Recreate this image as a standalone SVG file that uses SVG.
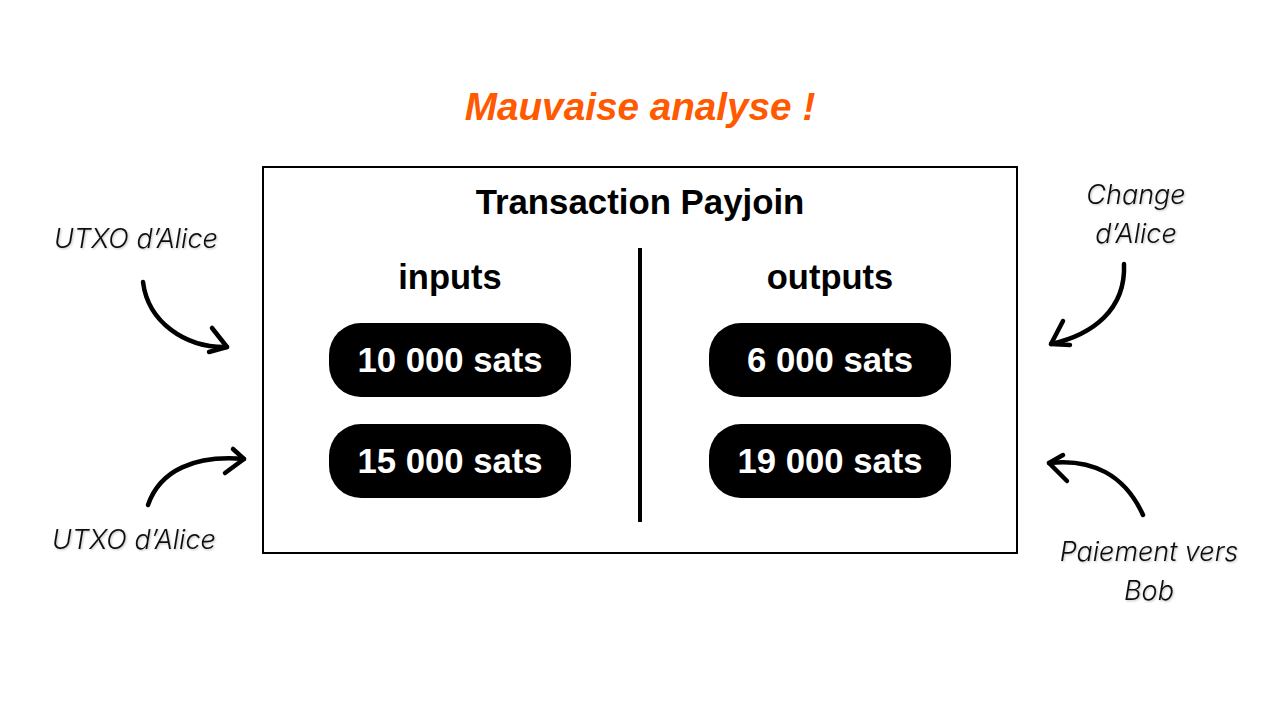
<svg xmlns="http://www.w3.org/2000/svg" width="1280" height="720" viewBox="0 0 1280 720">
<defs>
<filter id="sh" x="-10%" y="-20%" width="120%" height="140%"><feDropShadow dx="1" dy="1" stdDeviation="1" flood-color="#000" flood-opacity="0.25"/></filter>
</defs>
<style>
.b{font-family:"Liberation Sans",Arial,sans-serif;font-weight:bold;text-anchor:middle}
.lab{font-family:Inter,"Liberation Sans",sans-serif;font-style:italic;font-weight:300;font-size:27px;fill:#111;text-anchor:middle;filter:url(#sh)}
.pill{fill:#000}
.pt{fill:#fff;font-size:34.7px}
.arr{fill:none;stroke:#000;stroke-width:4.5;stroke-linecap:round;stroke-linejoin:round}
</style>
<rect width="1280" height="720" fill="#fff"/>
<text class="b" x="640" y="120" font-size="38.7" font-style="italic" fill="#FF5A00">Mauvaise analyse !</text>
<g id="tx">
<rect x="263" y="167" width="754" height="386" fill="#fff" stroke="#000" stroke-width="2"/>
<text class="b" x="640" y="214" font-size="34.8">Transaction Payjoin</text>
<line x1="640" y1="248" x2="640" y2="522" stroke="#000" stroke-width="4"/>
<text class="b" x="450" y="289" font-size="34.5">inputs</text>
<text class="b" x="830" y="289" font-size="34.5">outputs</text>
</g>
<g id="in1"><rect class="pill" x="329" y="323" width="242" height="74" rx="32"/><text class="b pt" x="450" y="372">10 000 sats</text></g>
<g id="in2"><rect class="pill" x="329" y="424" width="242" height="74" rx="32"/><text class="b pt" x="450" y="473">15 000 sats</text></g>
<g id="out1"><rect class="pill" x="709" y="323" width="242" height="74" rx="32"/><text class="b pt" x="830" y="372">6 000 sats</text></g>
<g id="out2"><rect class="pill" x="709" y="424" width="242" height="74" rx="32"/><text class="b pt" x="830" y="473">19 000 sats</text></g>
<g id="l1"><text class="lab" x="136" y="248">UTXO d’Alice</text></g>
<g id="l2"><text class="lab" x="134" y="549">UTXO d’Alice</text></g>
<g id="r1"><text class="lab" x="1136" y="204">Change</text><text class="lab" x="1136" y="243">d’Alice</text></g>
<g id="r2"><text class="lab" x="1149" y="561">Paiement vers</text><text class="lab" x="1149" y="600">Bob</text></g>
<g id="connectors">
<path class="arr" d="M143,282 C148,322 185,348 227,347"/>
<path class="arr" d="M212,328 L227,347 L209,352"/>
<path class="arr" d="M148,505 C160,470 195,455 244,459"/>
<path class="arr" d="M233,449 L244,459 L225,473"/>
<path class="arr" d="M1124,264 C1126,310 1092,335 1051,344"/>
<path class="arr" d="M1063,321 L1051,344 L1070,345"/>
<path class="arr" d="M1143,515 C1125,475 1092,458 1049,463"/>
<path class="arr" d="M1063,455 L1049,463 L1067,481"/>
</g>
</svg>
